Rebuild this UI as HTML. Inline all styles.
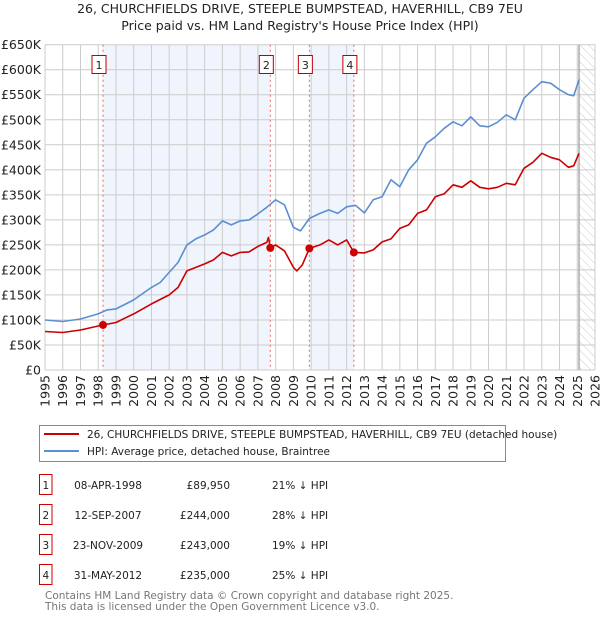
<!DOCTYPE html>
<html><head><meta charset="utf-8"><style>
body{margin:0;background:#fff;font-family:"Liberation Sans","DejaVu Sans",sans-serif;}
svg text{font-family:"DejaVu Sans","Liberation Sans",sans-serif;}
</style></head><body>
<svg id="c" width="600" height="620" xmlns="http://www.w3.org/2000/svg">
<defs><pattern id="hatch" width="6" height="6" patternUnits="userSpaceOnUse" patternTransform="rotate(-45)"><line x1="0" y1="0" x2="0" y2="6" stroke="#ccc" stroke-width="1"/></pattern></defs>
<text x="300" y="13" text-anchor="middle" font-size="12.5" fill="#222">26, CHURCHFIELDS DRIVE, STEEPLE BUMPSTEAD, HAVERHILL, CB9 7EU</text>
<text x="300" y="30" text-anchor="middle" font-size="12.5" fill="#222">Price paid vs. HM Land Registry's House Price Index (HPI)</text>
<g id="plot"></g>
<g>
<rect x="39.5" y="425.5" width="466" height="36" fill="#fff" stroke="#888"/>
<line x1="44" y1="434" x2="79" y2="434" stroke="#cc0000" stroke-width="2"/>
<text x="87" y="438" font-size="10.5" fill="#222">26, CHURCHFIELDS DRIVE, STEEPLE BUMPSTEAD, HAVERHILL, CB9 7EU (detached house)</text>
<line x1="44" y1="451" x2="79" y2="451" stroke="#5b8fd0" stroke-width="2"/>
<text x="87" y="455" font-size="10.5" fill="#222">HPI: Average price, detached house, Braintree</text>
</g>
<g id="table" font-size="10.5" fill="#222"></g>
<text x="45" y="599" font-size="10.5" fill="#777">Contains HM Land Registry data © Crown copyright and database right 2025.</text>
<text x="45" y="610" font-size="10.5" fill="#777">This data is licensed under the Open Government Licence v3.0.</text>
</svg>
<script>
const hpiYears=[1995,1996,1997,1998,1998.5,1999,2000,2001,2001.5,2002,2002.5,2003,2003.5,2004,2004.5,2005,2005.5,2006,2006.5,2007,2007.5,2008,2008.5,2009,2009.4,2009.9,2010.5,2011,2011.5,2012,2012.5,2013,2013.5,2014,2014.5,2015,2015.5,2016,2016.5,2017,2017.5,2018,2018.5,2019,2019.5,2020,2020.5,2021,2021.5,2022,2022.5,2023,2023.5,2024,2024.5,2024.8,2025.1];
const hpiValues=[100,97,102,112,120,122,140,165,175,195,215,250,262,270,280,298,290,298,300,312,325,340,330,285,278,303,313,320,313,326,329,314,340,346,380,366,400,420,453,466,483,496,488,506,488,486,495,510,500,543,560,576,573,560,550,548,580];
const ppYears=[1995,1996,1997,1998,1998.27,1999,2000,2001,2002,2002.5,2003,2003.5,2004,2004.5,2005,2005.5,2006,2006.5,2007,2007.5,2007.6,2007.7,2008,2008.5,2009,2009.2,2009.5,2009.9,2010.5,2011,2011.5,2012,2012.41,2013,2013.5,2014,2014.5,2015,2015.5,2016,2016.5,2017,2017.5,2018,2018.5,2019,2019.5,2020,2020.5,2021,2021.5,2022,2022.5,2023,2023.5,2024,2024.5,2024.8,2025.1];
const ppValues=[77,75,80,88,90,95,112,132,150,165,198,205,212,220,235,228,235,236,247,255,265,244,250,238,205,198,210,243,250,260,250,260,235,234,240,256,262,283,290,313,320,346,352,370,365,378,365,362,365,373,370,403,415,433,425,420,405,408,433];
const saleYears=[1998.27,2007.70,2009.90,2012.41];
const salePrices=[89950,244000,243000,235000];
const saleDates=["08-APR-1998","12-SEP-2007","23-NOV-2009","31-MAY-2012"];
const salePriceLabels=["£89,950","£244,000","£243,000","£235,000"];
const saleHpiLabels=["21% ↓ HPI","28% ↓ HPI","19% ↓ HPI","25% ↓ HPI"];
const yTicks=[0,50,100,150,200,250,300,350,400,450,500,550,600,650];
const yTickLabels=["£0","£50K","£100K","£150K","£200K","£250K","£300K","£350K","£400K","£450K","£500K","£550K","£600K","£650K"];
const xTicks=[];for(let y=1995;y<=2026;y++)xTicks.push(y);

const X0=45,X1=595,Y0=370,Y1=44.7;
const xs=y=>X0+(y-1995)*(X1-X0)/31;
const ys=v=>Y0-v*(Y0-Y1)/650;
const NS="http://www.w3.org/2000/svg";
const plot=document.getElementById('plot');
function mk(tag,attrs,parent){const e=document.createElementNS(NS,tag);for(const k in attrs)e.setAttribute(k,attrs[k]);(parent||plot).appendChild(e);return e;}

for(const [a,b] of [[0,1],[2,3]]){
  const r=mk('rect',{x:xs(saleYears[a]),y:Y1,width:xs(saleYears[b])-xs(saleYears[a]),height:Y0-Y1,fill:'#f0f4fd'});
  
  
}
const h=mk('rect',{x:xs(2025.1),y:Y1,width:X1-xs(2025.1),height:Y0-Y1,fill:'url(#hatch)'});


yTicks.forEach((v,i)=>{
  const l=mk('line',{x1:X0,x2:X1,y1:ys(v),y2:ys(v),stroke:'#cccccc','stroke-width':1});
  
  
  const t=mk('text',{x:X0-4,y:ys(v)+4.5,'text-anchor':'end','font-size':12.5,fill:'#222'});
  t.textContent=yTickLabels[i];
  
  
});
xTicks.forEach(y=>{
  const l=mk('line',{x1:xs(y),x2:xs(y),y1:Y1,y2:Y0,stroke:'#cccccc','stroke-width':1});
  
  
  const t=mk('text',{x:0,y:0,'text-anchor':'end','font-size':12.5,fill:'#222',transform:`translate(${xs(y)+4.5},${Y0+5}) rotate(-90)`});
  t.textContent=y;
  
  
});
const nl=mk('line',{x1:xs(2025.1),x2:xs(2025.1),y1:Y1,y2:Y0,stroke:'#999','stroke-width':1.2});


saleYears.forEach((y,i)=>{
  const l=mk('line',{x1:xs(y),x2:xs(y),y1:Y1,y2:Y0,stroke:'#ee6666','stroke-width':1,'stroke-dasharray':'2,3'});
  
  
  const g=mk('g',{});
  
  
  mk('rect',{x:xs(y)-11,y:55.5,width:14,height:18,fill:'#fff',stroke:'#bb0000','stroke-width':1},g);
  const t=mk('text',{x:xs(y)-4,y:69,'text-anchor':'middle','font-size':11,fill:'#222'},g);
  t.textContent=i+1;
});
function line(xa,va,color,name){
  const d=xa.map((y,i)=>(i?'L':'M')+xs(y).toFixed(1)+','+ys(va[i]).toFixed(1)).join('');
  const p=mk('path',{d,fill:'none',stroke:color,'stroke-width':1.6,'stroke-linejoin':'round'});
  
  
}
line(hpiYears,hpiValues,'#5b8fd0','hpi-line');
line(ppYears,ppValues,'#cc0000','price-paid-line');
saleYears.forEach((y,i)=>{
  const c=mk('circle',{cx:xs(y),cy:ys(salePrices[i]/1000),r:4,fill:'#cc0000'});
  
  
});
const tb=document.getElementById('table');
saleYears.forEach((y,i)=>{
  const yy=485+i*30;
  const g=mk('g',{},tb);
  
  
  mk('rect',{x:39.5,y:yy-10.5,width:12.5,height:20,fill:'#fff',stroke:'#cc0000'},g);
  const items=[[45.8,'middle',i+1],[108,'middle',saleDates[i]],[230,'end',salePriceLabels[i]],[272,'start',saleHpiLabels[i]]];
  items.forEach(([x,a,s])=>{const t=mk('text',{x,y:yy+4,'text-anchor':a,'font-size':10.5,fill:'#222'},g);t.textContent=s;});
});
</script>
</body></html>
